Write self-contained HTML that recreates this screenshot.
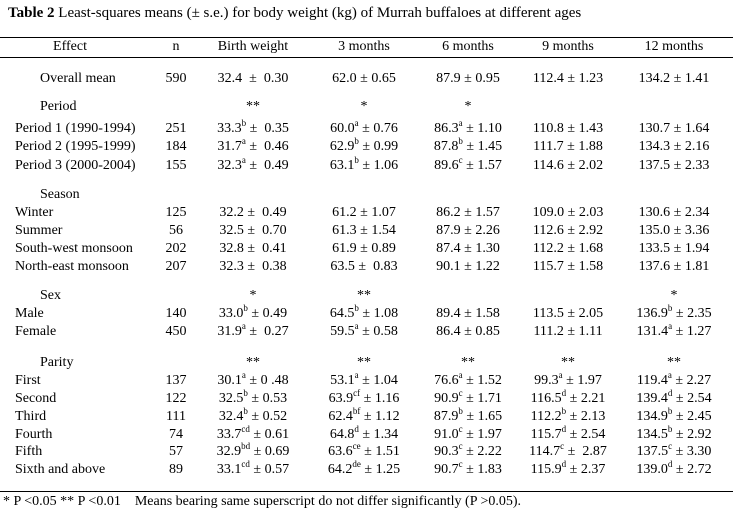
<!DOCTYPE html>
<html><head><meta charset="utf-8"><style>
body{margin:0;background:#fff;width:733px;height:513px;position:relative;overflow:hidden;font-family:"Liberation Serif",serif;color:#000;font-size:14px}
.t{position:absolute;white-space:nowrap;line-height:16px}
.c{transform:translateX(-50%)}
sup{font-size:9px;vertical-align:0;position:relative;top:-6px;line-height:0}
.rule{position:absolute;left:0;width:733px;height:1px;background:#000}
</style></head><body>
<div class="t" style="left:8px;top:5px;font-size:15px"><b>Table 2</b> Least-squares means (± s.e.) for body weight (kg) of Murrah buffaloes at different ages</div>
<div class="rule" style="top:37px"></div>
<div class="rule" style="top:57px"></div>
<div class="rule" style="top:491px"></div>
<div id="tbl"></div>
<div class="t" style="left:3px;top:494px">* P &lt;0.05 ** P &lt;0.01 &nbsp;&nbsp;&nbsp;Means bearing same superscript do not differ significantly (P &gt;0.05).</div>
<script>
const colX=[null,176,253,364,468,568,674];
const headers=["Effect","n","Birth weight","3 months","6 months","9 months","12 months"];
const rows=[
[79,"Overall mean",1,"590","32.4 &nbsp;± &nbsp;0.30","62.0 ± 0.65","87.9 ± 0.95","112.4 ± 1.23","134.2 ± 1.41"],
[107,"Period",1,"","**","*","*","",""],
[129,"Period 1 (1990-1994)",0,"251","33.3<sup>b</sup> ± &nbsp;0.35","60.0<sup>a</sup> ± 0.76","86.3<sup>a</sup> ± 1.10","110.8 ± 1.43","130.7 ± 1.64"],
[147,"Period 2 (1995-1999)",0,"184","31.7<sup>a</sup> ± &nbsp;0.46","62.9<sup>b</sup> ± 0.99","87.8<sup>b</sup> ± 1.45","111.7 ± 1.88","134.3 ± 2.16"],
[166,"Period 3 (2000-2004)",0,"155","32.3<sup>a</sup> ± &nbsp;0.49","63.1<sup>b</sup> ± 1.06","89.6<sup>c</sup> ± 1.57","114.6 ± 2.02","137.5 ± 2.33"],
[195,"Season",1,"","","","","",""],
[213,"Winter",0,"125","32.2 ± &nbsp;0.49","61.2 ± 1.07","86.2 ± 1.57","109.0 ± 2.03","130.6 ± 2.34"],
[231,"Summer",0,"56","32.5 ± &nbsp;0.70","61.3 ± 1.54","87.9 ± 2.26","112.6 ± 2.92","135.0 ± 3.36"],
[249,"South-west monsoon",0,"202","32.8 ± &nbsp;0.41","61.9 ± 0.89","87.4 ± 1.30","112.2 ± 1.68","133.5 ± 1.94"],
[267,"North-east monsoon",0,"207","32.3 ± &nbsp;0.38","63.5 ± &nbsp;0.83","90.1 ± 1.22","115.7 ± 1.58","137.6 ± 1.81"],
[296,"Sex",1,"","*","**","","","*"],
[314,"Male",0,"140","33.0<sup>b</sup> ± 0.49","64.5<sup>b</sup> ± 1.08","89.4 ± 1.58","113.5 ± 2.05","136.9<sup>b</sup> ± 2.35"],
[332,"Female",0,"450","31.9<sup>a</sup> ± &nbsp;0.27","59.5<sup>a</sup> ± 0.58","86.4 ± 0.85","111.2 ± 1.11","131.4<sup>a</sup> ± 1.27"],
[363,"Parity",1,"","**","**","**","**","**"],
[381,"First",0,"137","30.1<sup>a</sup> ± 0 .48","53.1<sup>a</sup> ± 1.04","76.6<sup>a</sup> ± 1.52","99.3<sup>a</sup> ± 1.97","119.4<sup>a</sup> ± 2.27"],
[399,"Second",0,"122","32.5<sup>b</sup> ± 0.53","63.9<sup>cf</sup> ± 1.16","90.9<sup>c</sup> ± 1.71","116.5<sup>d</sup> ± 2.21","139.4<sup>d</sup> ± 2.54"],
[417,"Third",0,"111","32.4<sup>b</sup> ± 0.52","62.4<sup>bf</sup> ± 1.12","87.9<sup>b</sup> ± 1.65","112.2<sup>b</sup> ± 2.13","134.9<sup>b</sup> ± 2.45"],
[435,"Fourth",0,"74","33.7<sup>cd</sup> ± 0.61","64.8<sup>d</sup> ± 1.34","91.0<sup>c</sup> ± 1.97","115.7<sup>d</sup> ± 2.54","134.5<sup>b</sup> ± 2.92"],
[452,"Fifth",0,"57","32.9<sup>bd</sup> ± 0.69","63.6<sup>ce</sup> ± 1.51","90.3<sup>c</sup> ± 2.22","114.7<sup>c</sup> ± &nbsp;2.87","137.5<sup>c</sup> ± 3.30"],
[470,"Sixth and above",0,"89","33.1<sup>cd</sup> ± 0.57","64.2<sup>de</sup> ± 1.25","90.7<sup>c</sup> ± 1.83","115.9<sup>d</sup> ± 2.37","139.0<sup>d</sup> ± 2.72"]
];
const tb=document.getElementById('tbl');
function add(html,x,y,center,name){
  const d=document.createElement('div');
  d.className='t'+(center?' c':'');
  d.style.left=x+'px';d.style.top=(y-8)+'px';
  d.innerHTML=html;
  
  
  tb.appendChild(d);
}
add(headers[0],70,47,true,'header-effect');
for(let i=1;i<7;i++) add(headers[i],colX[i],47,true,'header-col');
rows.forEach(r=>{
  add(r[1],r[2]?40:15,r[0],false,'row-label');
  for(let i=1;i<7;i++) if(r[i+2]) add(r[i+2],colX[i],r[0],true,'cell');
});
</script>
</body></html>
